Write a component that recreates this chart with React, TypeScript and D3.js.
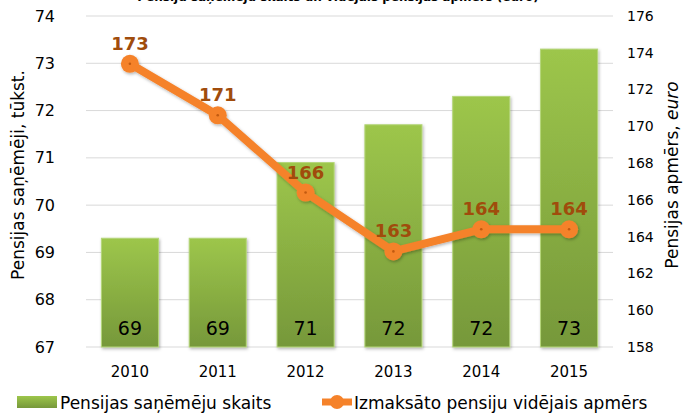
import React, { useEffect, useRef } from 'react';
import * as d3 from 'd3';

const years = ['2010', '2011', '2012', '2013', '2014', '2015'];
const recipients = [69.3, 69.3, 70.9, 71.7, 72.3, 73.3];
const avgPension = [173.4, 170.6, 166.4, 163.2, 164.4, 164.4];
const leftTicks = [67, 68, 69, 70, 71, 72, 73, 74];
const rightTicks = [158, 160, 162, 164, 166, 168, 170, 172, 174, 176];

const W = 684;
const H = 416;
const FONT = 'DejaVu Sans, Verdana, sans-serif';

const App = () => {
  const ref = useRef<SVGSVGElement>(null);

  useEffect(() => {
    const svg = d3.select(ref.current);
    svg.selectAll('*').remove();

    const m = { top: 16, right: 71, bottom: 69, left: 86 };
    const x = d3.scaleBand().domain(years).range([m.left, W - m.right]).paddingInner(0.35).paddingOuter(0.175);
    const yL = d3.scaleLinear().domain([67, 74]).range([H - m.bottom, m.top]);
    const yR = d3.scaleLinear().domain([158, 176]).range([H - m.bottom, m.top]);

    const defs = svg.append('defs');
    const grad = defs.append('linearGradient').attr('id', 'barGrad')
      .attr('x1', 0).attr('y1', 0).attr('x2', 0).attr('y2', 1);
    grad.append('stop').attr('offset', '0%').attr('stop-color', '#9dc64b');
    grad.append('stop').attr('offset', '100%').attr('stop-color', '#76983a');
    const shadow = defs.append('filter').attr('id', 'shadow').attr('x', '-20%').attr('y', '-20%').attr('width', '140%').attr('height', '140%');
    shadow.append('feDropShadow').attr('dx', 1).attr('dy', 1.5).attr('stdDeviation', 1.5).attr('flood-opacity', 0.3);

    // title (cut off at the top edge, as in the source)
    svg.append('text')
      .attr('x', 338).attr('y', 1)
      .attr('text-anchor', 'middle')
      .style('font-family', FONT).style('font-size', '12px').style('font-weight', 'bold')
      .text('Pensiju saņēmēju skaits un vidējais pensijas apmērs (euro)');

    // gridlines
    svg.append('g').selectAll('line').data(leftTicks).enter().append('line')
      .attr('x1', m.left).attr('x2', W - m.right)
      .attr('y1', d => yL(d)).attr('y2', d => yL(d))
      .attr('stroke', '#d9d9d9').attr('stroke-width', 1);

    // left axis labels
    svg.append('g').selectAll('text').data(leftTicks).enter().append('text')
      .attr('x', 55).attr('y', d => yL(d)).attr('dy', '0.35em')
      .attr('text-anchor', 'end')
      .style('font-family', FONT).style('font-size', '16px').attr('fill', '#000')
      .text(d => d);

    // right axis labels
    svg.append('g').selectAll('text').data(rightTicks).enter().append('text')
      .attr('x', 627).attr('y', d => yR(d)).attr('dy', '0.35em')
      .style('font-family', FONT).style('font-size', '14px').attr('fill', '#000')
      .text(d => d);

    // x labels
    svg.append('g').selectAll('text').data(years).enter().append('text')
      .attr('x', d => x(d)! + x.bandwidth() / 2).attr('y', 377)
      .attr('text-anchor', 'middle')
      .style('font-family', FONT).style('font-size', '15px').attr('fill', '#000')
      .text(d => d);

    // axis titles
    svg.append('text')
      .attr('transform', 'translate(24,175) rotate(-90)')
      .attr('text-anchor', 'middle')
      .style('font-family', FONT).style('font-size', '17px')
      .text('Pensijas saņēmēji, tūkst.');
    const rt = svg.append('text')
      .attr('transform', 'translate(678,175) rotate(-90)')
      .attr('text-anchor', 'middle')
      .style('font-family', FONT).style('font-size', '17px');
    rt.append('tspan').text('Pensijas apmērs, ');
    rt.append('tspan').style('font-style', 'italic').text('euro');

    // bars
    const bars = svg.append('g');
    bars.selectAll('rect').data(recipients).enter().append('rect')
      .attr('x', (d, i) => x(years[i])!)
      .attr('y', d => yL(d))
      .attr('width', x.bandwidth())
      .attr('height', d => yL(67) - yL(d))
      .attr('fill', 'url(#barGrad)')
      .attr('stroke', '#b5d67a').attr('stroke-width', 1)
      .attr('filter', 'url(#shadow)');
    bars.selectAll('text').data(recipients).enter().append('text')
      .attr('x', (d, i) => x(years[i])! + x.bandwidth() / 2)
      .attr('y', 335)
      .attr('text-anchor', 'middle')
      .style('font-family', FONT).style('font-size', '19px').attr('fill', '#000')
      .text(d => d3.format('.0f')(d));

    // line
    const pts: [number, number][] = avgPension.map((v, i) => [x(years[i])! + x.bandwidth() / 2, yR(v)]);
    const lg = svg.append('g').attr('filter', 'url(#shadow)');
    lg.append('path')
      .attr('d', d3.line()(pts))
      .attr('fill', 'none').attr('stroke', '#f5822a').attr('stroke-width', 8)
      .attr('stroke-linejoin', 'round').attr('stroke-linecap', 'round');
    lg.selectAll('circle').data(pts).enter().append('circle')
      .attr('cx', d => d[0]).attr('cy', d => d[1]).attr('r', 9)
      .attr('fill', '#f5822a');
    svg.append('g').selectAll('circle').data(pts).enter().append('circle')
      .attr('cx', d => d[0]).attr('cy', d => d[1]).attr('r', 1.3)
      .attr('fill', '#c25a10');
    svg.append('g').selectAll('text').data(avgPension).enter().append('text')
      .attr('x', (d, i) => pts[i][0]).attr('y', (d, i) => pts[i][1] - 14)
      .attr('text-anchor', 'middle')
      .style('font-family', FONT).style('font-size', '18px').style('font-weight', 'bold')
      .attr('fill', '#a04c0c')
      .text(d => d3.format('.0f')(d));

    // legend
    const leg = svg.append('g');
    leg.append('rect').attr('x', 17).attr('y', 396).attr('width', 40).attr('height', 12).attr('fill', 'url(#barGrad)');
    leg.append('text').attr('x', 60).attr('y', 409)
      .style('font-family', FONT).style('font-size', '17px').text('Pensijas saņēmēju skaits');
    leg.append('line').attr('x1', 322).attr('x2', 352).attr('y1', 402).attr('y2', 402)
      .attr('stroke', '#f5822a').attr('stroke-width', 7);
    leg.append('circle').attr('cx', 337).attr('cy', 402).attr('r', 7).attr('fill', '#f5822a');
    leg.append('text').attr('x', 354).attr('y', 409)
      .style('font-family', FONT).style('font-size', '17px').text('Izmaksāto pensiju vidējais apmērs');
  }, []);

  return (
    <svg ref={ref} width={W} height={H} style={{ position: 'absolute', left: 0, top: 0, background: '#fff' }} />
  );
};

export default App;
